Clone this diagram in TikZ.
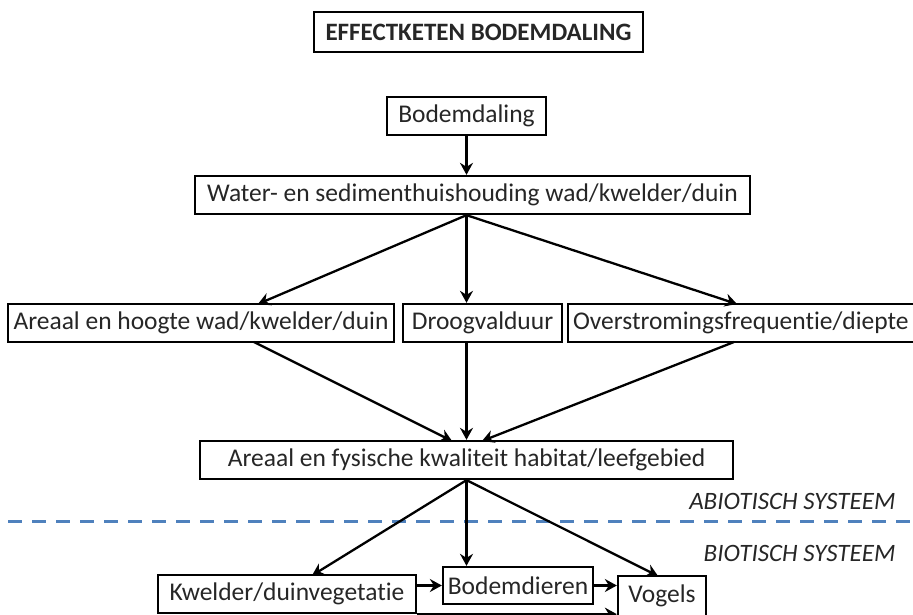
\documentclass[tikz,border=0pt]{standalone}
\usepackage{fontspec}
\setmainfont{Carlito}[Ligatures=NoCommon]
\usepackage{tikz}
\usetikzlibrary{arrows.meta}

\begin{document}
\begin{tikzpicture}[x=1pt,y=-1pt,
  box/.style={draw,line width=2.3pt,minimum height=38pt,inner sep=0pt,
    text=black!85,font=\fontsize{25.5}{30}\selectfont},
  lbl/.style={anchor=east,text=black!85,font=\fontsize{25}{30}\selectfont\itshape},
  arr/.style={line width=2.3pt,-{Stealth[length=12pt,width=13pt,inset=4pt]}}]
  \clip (0,0) rectangle (913,615);
  % title
  \node[box,minimum width=329pt,minimum height=40pt,font=\fontsize{25}{30}\selectfont\bfseries]
    (title) at (478.5,32) {EFFECTKETEN BODEMDALING};
  % abiotic part
  \node[box,minimum width=159pt] (bodem) at (466.5,116) {Bodemdaling};
  \node[box,minimum width=555pt] (water) at (472.5,195) {Water- en sedimenthuishouding wad/kwelder/duin};
  \node[box,minimum width=386pt] (areaal) at (201,323) {Areaal en hoogte wad/kwelder/duin};
  \node[box,minimum width=159pt] (droog) at (482.5,323) {Droogvalduur};
  \node[box,minimum width=352pt,text width=342pt,align=left] (overst) at (744,323) {Overstromingsfrequentie/diepte};
  \node[box,minimum width=533pt] (habitat) at (466.5,460) {Areaal en fysische kwaliteit habitat/leefgebied};
  % biotic part
  \node[box,minimum width=258pt] (kwelder) at (287,594) {Kwelder/duinvegetatie};
  \node[box,minimum width=150pt,minimum height=37pt] (bodemd) at (518,585.5) {Bodemdieren};
  \node[box,minimum width=88pt,minimum height=40pt] (vogels) at (662,596) {Vogels};
  % boundary abiotic/biotic
  \draw[line width=3pt,color={rgb,255:red,79;green,129;blue,189},dash pattern=on 14pt off 10pt]
    (8,521) coordinate (d1) -- (913,521) coordinate (d2);
  \node[lbl] (abio) at (899,501) {ABIOTISCH SYSTEEM};
  \node[lbl] (bio) at (899,553) {BIOTISCH SYSTEEM};
  % arrows
  \draw[arr] (bodem.south) -- (bodem.south |- water.north);
  \draw[arr] (bodem.south |- water.south) -- (258,304);
  \draw[arr] (bodem.south |- water.south) -- (bodem.south |- droog.north);
  \draw[arr] (bodem.south |- water.south) -- (737,304);
  \draw[arr] (254,342) -- (452,441);
  \draw[arr] (bodem.south |- droog.south) -- (bodem.south |- habitat.north);
  \draw[arr] (734,342) -- (482,441);
  \draw[arr] (habitat.south) -- (312,575.5);
  \draw[arr] (habitat.south) -- (habitat.south |- bodemd.north);
  \draw[arr] (habitat.south) -- (658,576);
  \draw[arr] (kwelder.east |- bodemd.west) -- (bodemd.west);
  \draw[arr] (bodemd.east) -- (vogels.west |- bodemd.east);
  \draw[arr] (kwelder.south east) -- (vogels.west |- kwelder.south east);
\end{tikzpicture}
\end{document}
